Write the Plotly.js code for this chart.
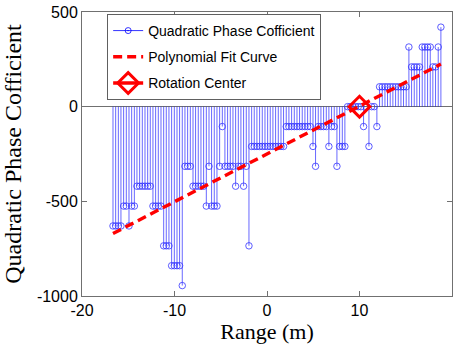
<!DOCTYPE html>
<html>
<head>
<meta charset="utf-8">
<script src="https://cdn.plot.ly/plotly-3.0.1.min.js"></script>
<style>html,body{margin:0;padding:0;background:#fff;}#chart{width:459px;height:355px;}</style>
</head>
<body>
<div id="chart"></div>
<script>
// Range positions (m)
const rangeX = [-16.65,-16.36,-16.07,-15.79,-15.50,-15.21,-14.92,-14.63,-14.34,-14.06,
-13.77,-13.48,-13.19,-12.90,-12.62,-12.33,-12.04,-11.75,-11.46,-11.17,
-10.89,-10.60,-10.31,-10.02,-9.73,-9.45,-9.16,-8.87,-8.58,-8.29,
-8.00,-7.72,-7.43,-7.14,-6.85,-6.56,-6.27,-5.99,-5.70,-5.41,
-5.12,-4.83,-4.55,-4.26,-3.97,-3.68,-3.39,-3.10,-2.82,-2.53,
-2.24,-1.95,-1.66,-1.38,-1.09,-0.80,-0.51,-0.22,0.07,0.35,
0.64,0.93,1.22,1.51,1.79,2.08,2.37,2.66,2.95,3.24,
3.52,3.81,4.10,4.39,4.68,4.97,5.25,5.54,5.83,6.12,
6.41,6.69,6.98,7.27,7.56,7.85,8.14,8.42,8.71,9.00,
9.29,9.58,9.86,10.15,10.44,10.73,11.02,11.31,11.59,11.88,
12.17,12.46,12.75,13.03,13.32,13.61,13.90,14.19,14.48,14.76,
15.05,15.34,15.63,15.92,16.20,16.49,16.78,17.07,17.36,17.65,
17.93,18.22,18.51,18.80];

// Quadratic phase coefficient values
const qpc = [-630,-630,-630,-630,-525,-525,-630,-525,-525,-420,
-420,-420,-420,-420,-420,-525,-525,-525,-525,-735,
-735,-735,-840,-840,-840,-840,-945,-315,-315,-315,
-420,-420,-420,-420,-420,-525,-315,-525,-525,-525,
-315,-105,-315,-315,-315,-315,-420,-315,-315,-420,
-315,-735,-210,-210,-210,-210,-210,-210,-210,-210,
-210,-210,-210,-210,-210,-105,-105,-105,-105,-105,
-105,-105,-105,-105,-105,-210,-315,-105,-105,-105,
-105,-210,-105,-105,-315,-210,-210,-210,0,0,
0,0,0,0,-105,0,-210,0,0,-105,
105,105,105,105,105,105,105,105,105,105,
105,315,210,210,210,210,315,315,315,315,
210,210,315,420];

// Polynomial (linear) fit curve end points
const fitX = [-16.65, 18.80];
const fitY = [-670, 225];

// Rotation center
const centerX = [10];
const centerY = [0];

const xTicks = [-20, -10, 0, 10, 20];
const yTicks = [-1000, -500, 0, 500];

// build stem segments
const stemX = [], stemY = [];
for (let i = 0; i < rangeX.length; i++) {
  stemX.push(rangeX[i], rangeX[i], null);
  stemY.push(0, qpc[i], null);
}

const blue = '#0000ff';
const red = '#ff0000';
const sans = 'Liberation Sans, Arial, sans-serif';
const serif = 'Liberation Serif, Times New Roman, serif';

const traces = [
  {x: stemX, y: stemY, type: 'scatter', mode: 'lines', line: {color: blue, width: 0.6},
   showlegend: false, hoverinfo: 'skip'},
  {x: rangeX, y: qpc, type: 'scatter', mode: 'markers',
   marker: {symbol: 'circle-open', size: 6.5, color: '#3333ff', line: {width: 0.8}},
   showlegend: false},
  {x: [null], y: [null], type: 'scatter', mode: 'lines+markers', name: 'Quadratic Phase Cofficient',
   line: {color: blue, width: 0.8}, marker: {symbol: 'circle-open-dot', size: 6, color: blue, line: {width: 0.8}},
   legendgroup: 'a'},
  {x: fitX, y: fitY, type: 'scatter', mode: 'lines', name: 'Polynomial Fit Curve',
   line: {color: red, width: 3.4, dash: '9px,5px'}, legendgroup: 'b'},
  {x: centerX, y: centerY, type: 'scatter', mode: 'lines+markers', name: 'Rotation Center',
   line: {color: red, width: 3.4},
   marker: {symbol: 'diamond-open', size: 16, color: red, line: {width: 3}}, legendgroup: 'c'}
];

const layout = {
  width: 459, height: 355,
  margin: {l: 82, r: 7, t: 12, b: 59},
  paper_bgcolor: '#fff', plot_bgcolor: '#fff',
  showlegend: true,
  legend: {x: 0.068, y: 0.993, xanchor: 'left', yanchor: 'top',
    bgcolor: '#fff', bordercolor: '#606060', borderwidth: 1,
    font: {family: sans, size: 14, color: '#000'}, tracegroupgap: 5, traceorder: 'grouped'},
  xaxis: {range: [-20, 20], tickvals: xTicks, ticktext: xTicks.map(String),
    ticks: 'inside', ticklen: 5, tickcolor: '#707070', showline: true, linecolor: '#707070', linewidth: 1,
    mirror: 'ticks', showgrid: false, zeroline: false,
    tickfont: {family: sans, size: 16, color: '#000'},
    title: {text: 'Range (m)', font: {family: serif, size: 22, color: '#000'}, standoff: 4}},
  yaxis: {range: [-1000, 500], tickvals: yTicks, ticktext: yTicks.map(String),
    ticks: 'inside', ticklen: 5, tickcolor: '#707070', showline: true, linecolor: '#707070', linewidth: 1,
    mirror: 'ticks', showgrid: false, zeroline: true, zerolinecolor: '#707070', zerolinewidth: 1,
    tickfont: {family: sans, size: 16, color: '#000'},
    title: {text: 'Quadratic Phase Cofficient', font: {family: serif, size: 24, color: '#000'}, standoff: 8}}
};

Plotly.newPlot('chart', traces, layout, {staticPlot: true, displayModeBar: false});
</script>
</body>
</html>
